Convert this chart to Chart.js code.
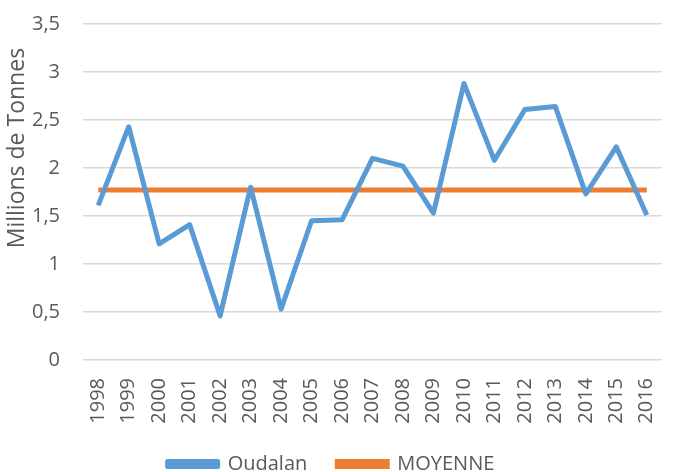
<!DOCTYPE html>
<html><head><meta charset="utf-8">
<script src="https://cdn.jsdelivr.net/npm/chart.js@4"></script>
<style>html,body{margin:0;padding:0;background:#fff}#w{width:673px;height:472px}</style>
</head><body><div id="w"><canvas id="c"></canvas></div>
<script>
const years = ['1998','1999','2000','2001','2002','2003','2004','2005','2006','2007','2008','2009','2010','2011','2012','2013','2014','2015','2016'];
const oudalan = [1.61,2.43,1.21,1.41,0.46,1.80,0.53,1.45,1.46,2.10,2.02,1.53,2.88,2.08,2.61,2.64,1.73,2.22,1.51];
const moyenne = [1.77,1.77,1.77,1.77,1.77,1.77,1.77,1.77,1.77,1.77,1.77,1.77,1.77,1.77,1.77,1.77,1.77,1.77,1.77];
const yTicks = [0,0.5,1,1.5,2,2.5,3,3.5];
const FONT = "'Open Sans', sans-serif";
const TXT = '#595959';
new Chart(document.getElementById('c'), {
  type: 'line',
  data: {
    labels: years,
    datasets: [
      {label:'Oudalan', data:oudalan, borderColor:'#5B9BD5', backgroundColor:'#5B9BD5', borderWidth:5, pointRadius:0, tension:0, borderJoinStyle:'round'},
      {label:'MOYENNE', data:moyenne, borderColor:'#ED7D31', backgroundColor:'#ED7D31', borderWidth:5, pointRadius:0, tension:0}
    ]
  },
  options: {
    responsive:true, maintainAspectRatio:false, animation:false,
    layout:{padding:{top:24,right:11,left:0,bottom:-12}},
    plugins:{
      legend:{position:'bottom', labels:{boxWidth:50, boxHeight:5, padding:30, color:TXT, font:{family:FONT,size:20}}},
      tooltip:{enabled:false}
    },
    scales:{
      x:{offset:true, grid:{display:false}, border:{display:false},
         ticks:{minRotation:90,maxRotation:90,color:TXT,font:{family:FONT,size:20},padding:10},
         afterFit:(s)=>{s.height=64; s.paddingLeft=0; s.paddingRight=0;}},
      y:{min:0,max:3.5, border:{display:false},
         grid:{color:'#D9D9D9', lineWidth:1.5, drawTicks:false},
         afterBuildTicks:(s)=>{s.ticks=yTicks.map(v=>({value:v}));},
         ticks:{color:TXT,font:{family:FONT,size:20},padding:23,
           callback:(v)=>String(v).replace('.',',')},
         title:{display:true,text:'Millions de Tonnes    ',align:'end',color:TXT,font:{family:FONT,size:23},padding:{top:4,bottom:0}},
         afterFit:(s)=>{s.width=83; s.paddingTop=0; s.paddingBottom=0;}}
    }
  }
});
</script></body></html>
